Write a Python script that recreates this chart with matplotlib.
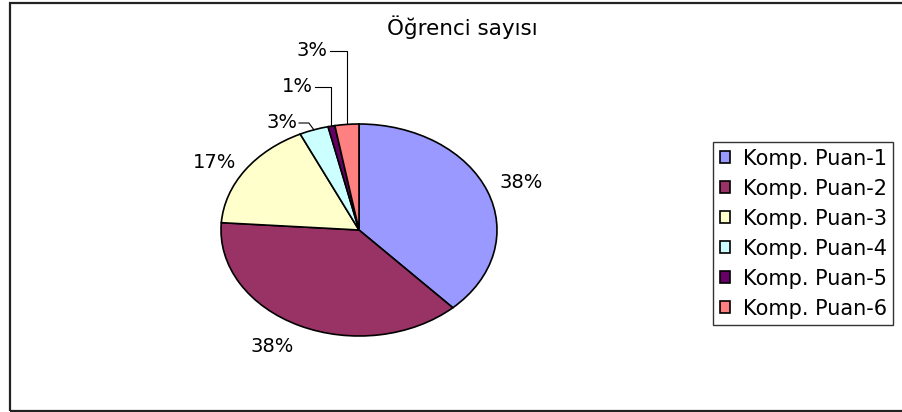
import numpy as np
import matplotlib
matplotlib.use("Agg")
import matplotlib.pyplot as plt
from matplotlib.patches import Rectangle

# Data
categories = ["Komp. Puan-1", "Komp. Puan-2", "Komp. Puan-3",
              "Komp. Puan-4", "Komp. Puan-5", "Komp. Puan-6"]
values = [38.1, 38.0, 16.9, 3.4, 0.8, 2.8]
labels = ["38%", "38%", "17%", "3%", "1%", "3%"]
colors = ["#9999FF", "#993366", "#FFFFCC", "#CCFFFF", "#660066", "#FF8080"]
title = "Öğrenci sayısı"

W, H = 902, 412
fig = plt.figure(figsize=(W / 100, H / 100), dpi=100)
fig.patch.set_facecolor("white")

# pie ellipse: center (359,230) px, rx 138, ry 106
cx, cy, rx, ry = 359, 230, 138, 106
ax = fig.add_axes([(cx - rx) / W, (H - cy - ry) / H, 2 * rx / W, 2 * ry / H])
wedges, _ = ax.pie(values, colors=colors, startangle=90, counterclock=False,
                   radius=1.0, wedgeprops=dict(edgecolor="black", linewidth=1.2))
ax.set_aspect("auto")
ax.set_xlim(-1, 1)
ax.set_ylim(-1, 1)
ax.axis("off")

def px2d(px, py):
    return (px - cx) / rx, (cy - py) / ry

fs = 14
# big labels (no leader)
for i, (px, py) in zip([0, 1, 2], [(521, 183), (272, 346), (215, 162)]):
    x, y = px2d(px, py)
    ax.text(x, y, labels[i], ha="center", va="center", fontsize=fs,
            family="DejaVu Sans", clip_on=False)

# small labels with leader lines
total = sum(values)
cum = np.cumsum([0] + values)
label_pos = {3: (297, 123), 4: (313, 87), 5: (328, 51)}
for i, (px, py) in label_pos.items():
    mid = (cum[i] + cum[i + 1]) / 2 / total * 360.0
    ang = np.deg2rad(90 - mid)
    ex, ey = np.cos(ang), np.sin(ang)
    tx, ty = px2d(px, py)
    ax.text(tx, ty, labels[i], ha="right", va="center", fontsize=fs,
            family="DejaVu Sans", clip_on=False)
    x0 = tx + 2 / rx
    if i == 3:
        xs = [x0, ex - 5 / rx, ex]
        ys = [ty, ty, ey]
    else:
        xs = [x0, ex, ex]
        ys = [ty, ty, ey]
    ax.plot(xs, ys, color="black", lw=0.8, clip_on=False)

fig.text(462 / W, 1 - 27 / H, title, ha="center", va="center",
         fontsize=15.5, family="DejaVu Sans")

leg = fig.legend(wedges, categories, loc="upper left",
                 bbox_to_anchor=(713 / W, 1 - 142 / H),
                 bbox_transform=fig.transFigure, borderaxespad=0,
                 prop={"family": "DejaVu Sans", "size": 15},
                 frameon=True, fancybox=False, shadow=False,
                 handlelength=0.48, handleheight=0.48, handletextpad=0.62,
                 labelspacing=0.48, borderpad=0.32)
leg.get_frame().set_edgecolor("black")
leg.get_frame().set_linewidth(1.0)

# chart border
fig.patches.append(Rectangle((10 / W, 1 / H), (W + 20) / W, (H - 4) / H,
                             transform=fig.transFigure, fill=False,
                             edgecolor="#222222", linewidth=1.6))

fig.savefig("out.png", dpi=100)
